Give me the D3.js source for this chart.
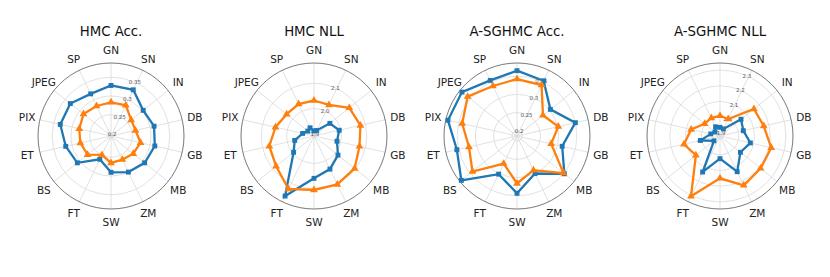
<!DOCTYPE html>
<html>
<head>
<meta charset="utf-8">
<script src="https://cdn.jsdelivr.net/npm/d3@7/dist/d3.min.js"></script>
<style>
  html, body { margin: 0; padding: 0; background: #fff; }
  svg { display: block; font-family: "DejaVu Sans", sans-serif; }
</style>
</head>
<body>
<svg id="chart" width="830" height="277"></svg>
<script>
// ---- Data ----
const categories = ["GN","SN","IN","DB","GB","MB","ZM","SW","FT","BS","ET","PIX","JPEG","SP"];
const titles = ["HMC Acc.", "HMC NLL", "A-SGHMC Acc.", "A-SGHMC NLL"];

// HMC Acc.
const hmcAccBlue   = [0.328,0.330,0.303,0.311,0.313,0.308,0.300,0.290,0.262,0.308,0.317,0.332,0.332,0.318];
const hmcAccOrange = [0.283,0.284,0.262,0.260,0.274,0.269,0.263,0.265,0.249,0.273,0.277,0.280,0.287,0.282];
const hmcAccTicks  = ["0.2", "0.25", "0.3", "0.35"];
const hmcAccLimits = [0.193, 0.388];

// HMC NLL
const hmcNllBlue   = [1.912,1.916,1.972,1.994,1.985,2.013,2.037,2.059,2.155,1.995,1.970,1.938,1.923,1.928];
const hmcNllOrange = [2.032,2.028,2.070,2.080,2.076,2.097,2.104,2.105,2.124,2.083,2.073,2.048,2.030,2.032];
const hmcNllTicks  = ["1.9", "2.0", "2.1"];
const hmcNllLimits = [1.892, 2.180];

// A-SGHMC Acc.
const sgAccBlue   = [0.365,0.354,0.303,0.350,0.313,0.352,0.300,0.343,0.302,0.381,0.355,0.380,0.379,0.355];
const sgAccOrange = [0.342,0.341,0.277,0.302,0.282,0.349,0.290,0.316,0.270,0.342,0.321,0.340,0.359,0.338];
const sgAccTicks  = ["0.2", "0.25", "0.3", "0.35"];
const sgAccLimits = [0.186, 0.386];

// A-SGHMC NLL
const sgNllBlue   = [1.936,1.931,2.052,2.033,2.079,2.047,2.133,2.025,2.135,1.930,2.009,1.941,1.922,1.946];
const sgNllOrange = [2.010,2.001,2.157,2.166,2.215,2.211,2.229,2.150,2.306,2.077,2.116,2.069,2.006,2.008];
const sgNllTicks  = ["1.9", "2.0", "2.1", "2.2", "2.3"];
const sgNllLimits = [1.881, 2.345];

const panels = [
  { title: titles[0], blue: hmcAccBlue, orange: hmcAccOrange, ticks: hmcAccTicks, limits: hmcAccLimits },
  { title: titles[1], blue: hmcNllBlue, orange: hmcNllOrange, ticks: hmcNllTicks, limits: hmcNllLimits },
  { title: titles[2], blue: sgAccBlue,  orange: sgAccOrange,  ticks: sgAccTicks,  limits: sgAccLimits },
  { title: titles[3], blue: sgNllBlue,  orange: sgNllOrange,  ticks: sgNllTicks,  limits: sgNllLimits }
];

// ---- Layout ----
const svg = d3.select("#chart");
const centersX = [111, 314, 517, 720];
const cy = 136;
const R = 73;
const BLUE = "#1f77b4", ORANGE = "#ff7f0e";

const angle = d3.scaleLinear()
  .domain([0, categories.length])
  .range([0, 2 * Math.PI]);

function polar(a, r) { return [r * Math.sin(a), -r * Math.cos(a)]; }

panels.forEach((p, i) => {
  const g = svg.append("g").attr("transform", `translate(${centersX[i]},${cy})`);
  const r = d3.scaleLinear().domain(p.limits).range([0, R]);

  // grid circles
  g.selectAll("circle.grid").data(p.ticks).join("circle")
    .attr("class", "grid")
    .attr("r", d => Math.max(0, r(+d)))
    .attr("fill", "none").attr("stroke", "#d9d9d9").attr("stroke-width", 0.8);

  // spokes
  g.selectAll("line.spoke").data(categories).join("line")
    .attr("class", "spoke")
    .attr("x1", 0).attr("y1", 0)
    .attr("x2", (d, k) => polar(angle(k), R)[0])
    .attr("y2", (d, k) => polar(angle(k), R)[1])
    .attr("stroke", "#d9d9d9").attr("stroke-width", 0.8);

  // outer circle
  g.append("circle").attr("r", R)
    .attr("fill", "none").attr("stroke", "#555").attr("stroke-width", 0.8);

  // radial tick labels
  const la = 24 * Math.PI / 180;
  g.selectAll("text.rtick").data(p.ticks).join("text")
    .attr("class", "rtick")
    .attr("x", d => polar(la, r(+d))[0])
    .attr("y", d => polar(la, r(+d))[1])
    .attr("text-anchor", "middle").attr("dominant-baseline", "central")
    .attr("font-size", 5.5).attr("fill", "#555")
    .text(d => d);

  // category labels
  g.selectAll("text.cat").data(categories).join("text")
    .attr("class", "cat")
    .attr("x", (d, k) => polar(angle(k), R + 13)[0])
    .attr("y", (d, k) => polar(angle(k), R + 13)[1])
    .attr("text-anchor", "middle").attr("dominant-baseline", "central")
    .attr("font-size", 10.5).attr("fill", "#222")
    .text(d => d);

  // title
  g.append("text")
    .attr("x", 0).attr("y", 36 - cy)
    .attr("text-anchor", "middle")
    .attr("font-size", 13.3).attr("fill", "#111")
    .text(p.title);

  const line = d3.lineRadial()
    .angle((d, k) => angle(k))
    .radius(d => r(d))
    .curve(d3.curveLinearClosed);

  [[p.blue, BLUE, d3.symbolSquare, 24], [p.orange, ORANGE, d3.symbolTriangle, 26]].forEach(([vals, col, sym, size]) => {
    g.append("path").datum(vals)
      .attr("d", line)
      .attr("fill", "none").attr("stroke", col).attr("stroke-width", 2.3)
      .attr("stroke-linejoin", "miter");
    g.selectAll(null).data(vals).join("path")
      .attr("transform", (d, k) => { const [x, y] = polar(angle(k), r(d)); return `translate(${x},${y})`; })
      .attr("d", d3.symbol().type(sym).size(size))
      .attr("fill", col);
  });
});
</script>
</body>
</html>
